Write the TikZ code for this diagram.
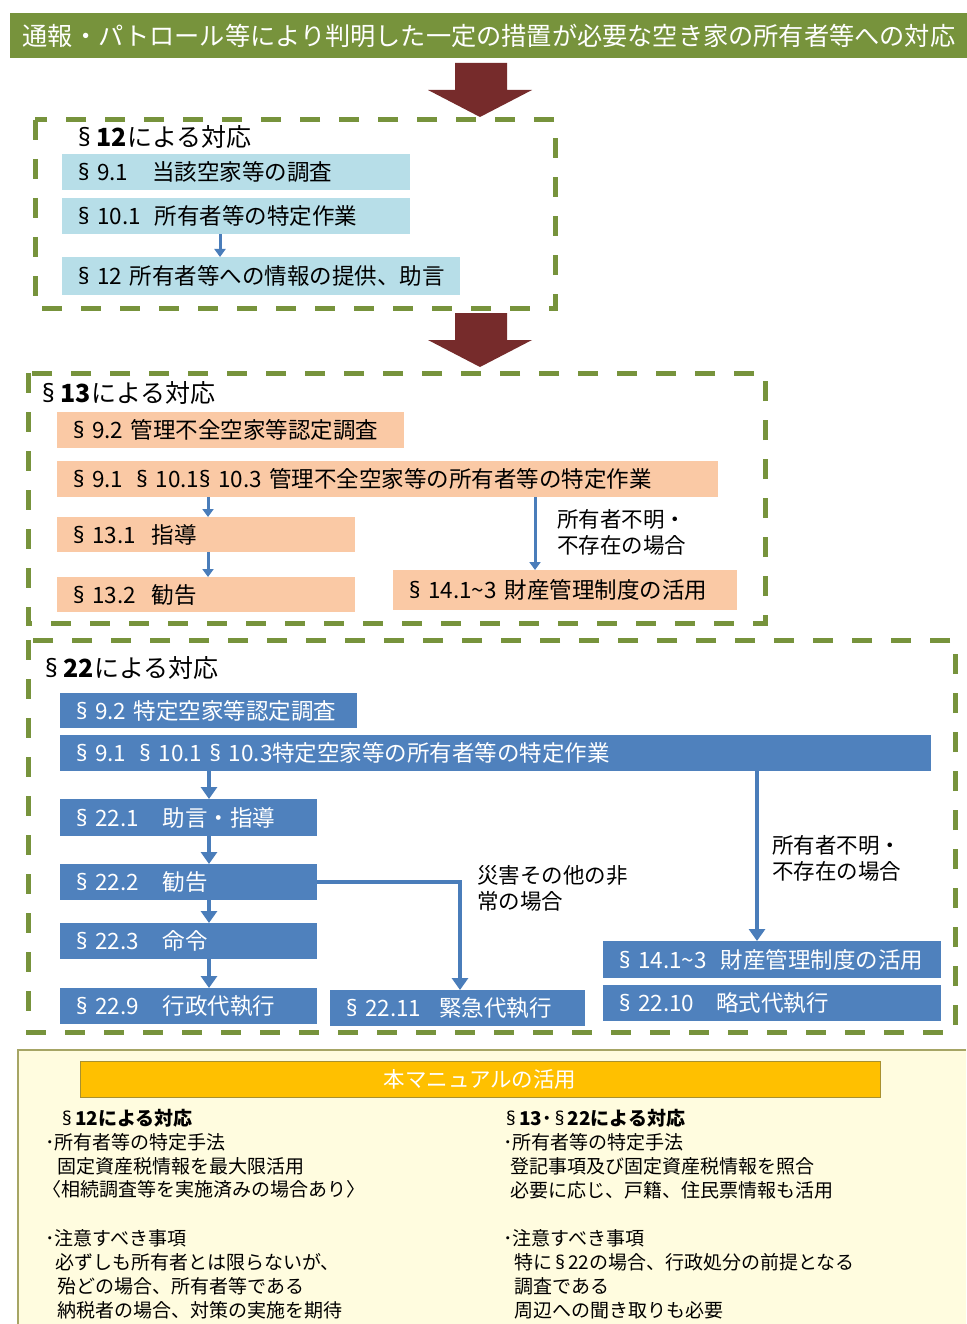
\documentclass[tikz,border=0pt]{standalone}
\usepackage{fontspec}
\setmainfont{Noto Sans CJK JP}
\newfontfamily\latinf{Noto Sans}
\newcommand\sect{{\latinf §}}
\usetikzlibrary{arrows.meta}
\definecolor{olive}{HTML}{77933C}
\definecolor{maroon}{HTML}{762B2B}
\definecolor{lblue}{HTML}{B7DEE8}
\definecolor{peach}{HTML}{FAC9A5}
\definecolor{mblue}{HTML}{4F81BD}
\definecolor{ablue}{HTML}{4A7DBA}
\definecolor{panel}{HTML}{FFFCDF}
\definecolor{panelline}{HTML}{A6A565}
\definecolor{obar}{HTML}{FFC000}
\definecolor{obarline}{HTML}{A89030}
\newcommand\bannerfnt{\fontsize{25.2pt}{30pt}\selectfont}
\newcommand\boxfnt{\fontsize{22.5pt}{27pt}\selectfont}
\newcommand\titlefnt{\fontsize{25pt}{29pt}\selectfont}
\newcommand\labfnt{\fontsize{21.5pt}{26pt}\selectfont}
\newcommand\botfnt{\fontsize{19pt}{23pt}\selectfont}
\tikzset{
  basebox/.style={anchor=north west, inner xsep=16pt, inner ysep=0pt, align=left, font=\boxfnt},
  lbbox/.style={basebox, fill=lblue},
  pbbox/.style={basebox, fill=peach},
  bbbox/.style={basebox, fill=mblue, text=white},
  dashbox/.style={draw=olive, line width=5pt, dash pattern=on 20pt off 19pt},
  bigarrow/.style={fill=maroon},
  thinarrow/.style={draw=ablue, line width=3pt, -{Triangle[width=11pt,length=8pt]}},
  fatarrow/.style={draw=ablue, line width=4.5pt, -{Triangle[width=16pt,length=12pt]}},
  titlenode/.style={anchor=west, inner sep=0pt, font=\titlefnt},
  labnode/.style={anchor=west, inner sep=0pt, align=left, font=\labfnt},
  botline/.style={anchor=west, inner sep=0pt, font=\botfnt},
}
\begin{document}
\begin{tikzpicture}[x=1pt,y=-1pt]
\useasboundingbox (0,0) rectangle (966,1324);
\fill[white] (0,0) rectangle (966,1324);

% banner
\node[fill=olive, text=white, minimum width=959pt, minimum height=45pt, inner sep=0pt, font=\bannerfnt] (banner) at (489,35.5) {通報・パトロール等により判明した一定の措置が必要な空き家の所有者等への対応};

% big arrows
\fill[bigarrow] (455,63) -- (507,63) -- (507,90) -- (532,90) -- (480,117) -- (428,90) -- (455,90) -- cycle;
\fill[bigarrow] (455,313) -- (507,313) -- (507,340) -- (532,340) -- (480,367) -- (428,340) -- (455,340) -- cycle;

% box 1
\draw[dashbox] (35,120) rectangle (555,308);
\node[titlenode] (t1) at (78,137) {\sect\ \textbf{12}による対応};
\node[lbbox, text width=316pt, minimum height=36pt] (a1) at (62,154) {\mbox{\sect\ 9.1\hspace{24pt}当該空家等の調査}};
\node[lbbox, text width=316pt, minimum height=36pt] (a2) at (62,198) {\mbox{\sect\ 10.1\hspace{14pt}所有者等の特定作業}};
\node[lbbox, text width=366pt, minimum height=38pt] (a3) at (62,257) {\mbox{\sect\ 12 所有者等への情報の提供、助言}};
\draw[thinarrow] ([xshift=158pt]a2.south west) -- ([xshift=158pt]a3.north west);

% box 2
\draw[dashbox] (28,373) rectangle (765,623);
\node[titlenode] (t2) at (42,393) {\sect\ \textbf{13}による対応};
\node[pbbox, text width=315pt, minimum height=36pt] (b1) at (57,412) {\mbox{\sect\ 9.2 管理不全空家等認定調査}};
\node[pbbox, text width=629pt, minimum height=36pt] (b2) at (57,461) {\mbox{\sect\ 9.1\hspace{13pt}\sect\ 10.1\sect\ 10.3 管理不全空家等の所有者等の特定作業}};
\node[pbbox, text width=266pt, minimum height=35pt] (b3) at (57,517) {\sect\ 13.1\hspace{16pt}指導};
\node[pbbox, text width=266pt, minimum height=35pt] (b4) at (57,577) {\sect\ 13.2\hspace{16pt}勧告};
\node[pbbox, text width=312pt, minimum height=40pt] (b5) at (393,570) {\mbox{\sect\ 14.1\char"007E 3\hspace{8pt}財産管理制度の活用}};
\draw[thinarrow] ([xshift=151pt]b2.south west) -- ([xshift=151pt]b3.north west);
\draw[thinarrow] ([xshift=151pt]b3.south west) -- ([xshift=151pt]b4.north west);
\draw[thinarrow] ([xshift=478pt]b2.south west) -- ([xshift=142pt]b5.north west);
\node[labnode] (l1) at (557,532) {所有者不明・\\不存在の場合};

% box 3
\draw[dashbox] (28,640) rectangle (955,1032);
\node[titlenode] (t3) at (45,668) {\sect\ \textbf{22}による対応};
\node[bbbox, text width=265pt, minimum height=35pt] (c1) at (60,693) {\mbox{\sect\ 9.2 特定空家等認定調査}};
\node[bbbox, text width=839pt, minimum height=36pt] (c2) at (60,735) {\mbox{\sect\ 9.1\hspace{13pt}\sect\ 10.1 \sect\ 10.3特定空家等の所有者等の特定作業}};
\node[bbbox, text width=225pt, minimum height=37pt] (c3) at (60,799) {\mbox{\sect\ 22.1\hspace{24pt}助言・指導}};
\node[bbbox, text width=225pt, minimum height=36pt] (c4) at (60,864) {\sect\ 22.2\hspace{24pt}勧告};
\node[bbbox, text width=225pt, minimum height=36pt] (c5) at (60,923) {\sect\ 22.3\hspace{24pt}命令};
\node[bbbox, text width=225pt, minimum height=36pt] (c6) at (60,988) {\mbox{\sect\ 22.9\hspace{24pt}行政代執行}};
\node[bbbox, text width=223pt, minimum height=36pt] (c7) at (330,990) {\mbox{\sect\ 22.11\hspace{18pt}緊急代執行}};
\node[bbbox, text width=306pt, minimum height=37pt] (c8) at (603,941) {\mbox{\sect\ 14.1\char"007E 3\hspace{14pt}財産管理制度の活用}};
\node[bbbox, text width=306pt, minimum height=36pt] (c9) at (603,985) {\mbox{\sect\ 22.10\hspace{22pt}略式代執行}};
\draw[fatarrow] ([xshift=149pt]c2.south west) -- ([xshift=149pt]c3.north west);
\draw[fatarrow] ([xshift=149pt]c3.south west) -- ([xshift=149pt]c4.north west);
\draw[fatarrow] ([xshift=149pt]c4.south west) -- ([xshift=149pt]c5.north west);
\draw[fatarrow] ([xshift=149pt]c5.south west) -- ([xshift=149pt]c6.north west);
\draw[fatarrow] (c4.east) -| ([xshift=130pt]c7.north west);
\draw[fatarrow] ([xshift=697pt]c2.south west) -- ([xshift=154pt]c8.north west);
\node[labnode] (l2) at (477,888) {災害その他の非\\常の場合};
\node[labnode] (l3) at (772,858) {所有者不明・\\不存在の場合};

% bottom panel
\fill[panel] (18,1050) rectangle (966,1324);
\draw[panelline, line width=1.2pt] (966,1050) -- (18,1050) -- (18,1324);
\node[fill=obar, draw=obarline, line width=1pt, minimum width=800pt, minimum height=36pt, inner sep=0pt, text=white, font=\labfnt] (obar) at (480,1079) {本マニュアルの活用};

\node[botline, font=\botfnt\bfseries] (p1) at (62,1118) {\sect\,12による対応};
\node[botline] (p2) at (45,1142) {･所有者等の特定手法};
\node[botline] (p3) at (57,1166) {固定資産税情報を最大限活用};
\node[botline] (p4) at (42,1189) {〈相続調査等を実施済みの場合あり〉};
\node[botline] (p5) at (45,1238) {･注意すべき事項};
\node[botline] (p6) at (55,1262) {必ずしも所有者とは限らないが、};
\node[botline] (p7) at (57,1286) {殆どの場合、所有者等である};
\node[botline] (p8) at (57,1310) {納税者の場合、対策の実施を期待};

\node[botline, font=\botfnt\bfseries] (q1) at (506,1118) {\sect\,13･\,\sect\,22による対応};
\node[botline] (q2) at (503,1142) {･所有者等の特定手法};
\node[botline] (q3) at (510,1166) {登記事項及び固定資産税情報を照合};
\node[botline] (q4) at (510,1190) {必要に応じ、戸籍、住民票情報も活用};
\node[botline] (q5) at (503,1238) {･注意すべき事項};
\node[botline] (q6) at (514,1262) {特に\,\sect\,22の場合、行政処分の前提となる};
\node[botline] (q7) at (514,1286) {調査である};
\node[botline] (q8) at (514,1310) {周辺への聞き取りも必要};
\end{tikzpicture}
\end{document}
